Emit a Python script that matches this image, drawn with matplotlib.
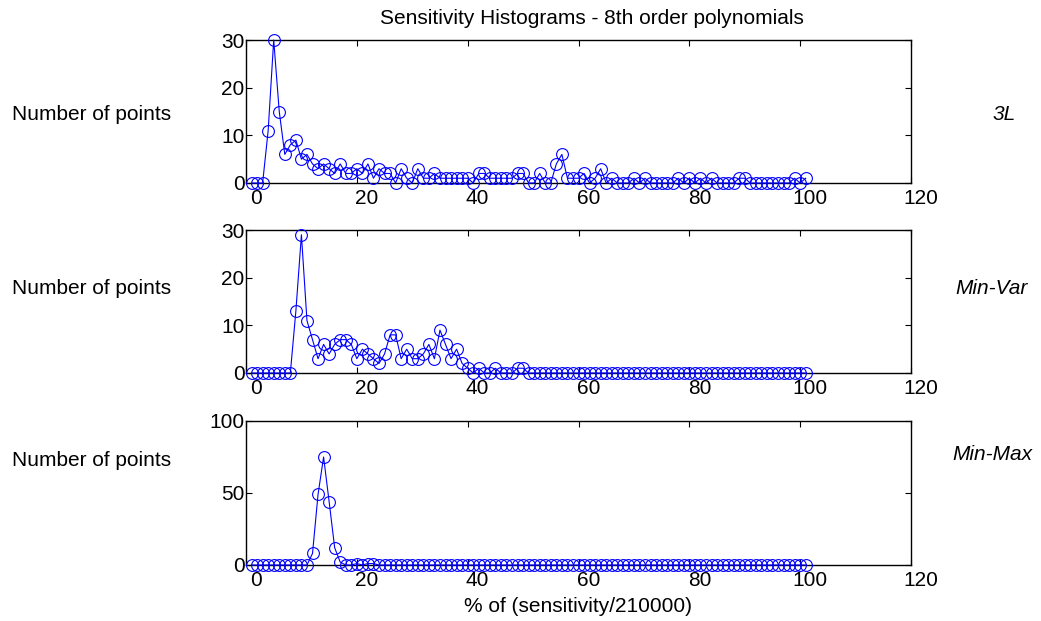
import numpy as np
import matplotlib
matplotlib.use('Agg')
import matplotlib.pyplot as plt
import matplotlib.transforms as mtransforms

plt.rcParams['font.family'] = ['Liberation Sans', 'DejaVu Sans']

# bins 1..101 (% of sensitivity/210000)
x = np.arange(1, 102)

counts_3L = [0, 0, 0, 11, 30, 15, 6, 8, 9, 5,
             6, 4, 3, 4, 3, 2, 4, 2, 2, 3,
             2, 4, 1, 3, 2, 2, 0, 3, 1, 0,
             3, 1, 1, 2, 1, 1, 1, 1, 1, 1,
             0, 2, 2, 1, 1, 1, 1, 1, 2, 2,
             0, 0, 2, 0, 0, 4, 6, 1, 1, 1,
             2, 0, 1, 3, 0, 1, 0, 0, 0, 1,
             0, 1, 0, 0, 0, 0, 0, 1, 0, 1,
             0, 1, 0, 1, 0, 0, 0, 0, 1, 1,
             0, 0, 0, 0, 0, 0, 0, 0, 1, 0,
             1]

counts_minvar = [0, 0, 0, 0, 0, 0, 0, 0, 13, 29,
                 11, 7, 3, 6, 4, 6, 7, 7, 6, 3,
                 5, 4, 3, 2, 4, 8, 8, 3, 5, 3,
                 3, 4, 6, 3, 9, 6, 3, 5, 2, 1,
                 0, 1, 0, 0, 1, 0, 0, 0, 1, 1,
                 0, 0, 0, 0, 0, 0, 0, 0, 0, 0,
                 0, 0, 0, 0, 0, 0, 0, 0, 0, 0,
                 0, 0, 0, 0, 0, 0, 0, 0, 0, 0,
                 0, 0, 0, 0, 0, 0, 0, 0, 0, 0,
                 0, 0, 0, 0, 0, 0, 0, 0, 0, 0,
                 0]

counts_minmax = [0, 0, 0, 0, 0, 0, 0, 0, 0, 0,
                 0, 8, 49, 75, 44, 12, 2, 0, 0, 1,
                 0, 1, 1, 0, 0, 0, 0, 0, 0, 0,
                 0, 0, 0, 0, 0, 0, 0, 0, 0, 0,
                 0, 0, 0, 0, 0, 0, 0, 0, 0, 0,
                 0, 0, 0, 0, 0, 0, 0, 0, 0, 0,
                 0, 0, 0, 0, 0, 0, 0, 0, 0, 0,
                 0, 0, 0, 0, 0, 0, 0, 0, 0, 0,
                 0, 0, 0, 0, 0, 0, 0, 0, 0, 0,
                 0, 0, 0, 0, 0, 0, 0, 0, 0, 0,
                 0]

series = [counts_3L, counts_minvar, counts_minmax]
names = ['3L', 'Min-Var', 'Min-Max']
ylims = [30, 30, 100]
yticks = [[0, 10, 20, 30], [0, 10, 20, 30], [0, 50, 100]]
xticks = [0, 20, 40, 60, 80, 100, 120]

W, H = 1041, 621
fig = plt.figure(figsize=(W / 100, H / 100), dpi=100)

# axes boxes in pixels: (top, bottom)
boxes = [(40, 183), (230, 373), (421, 565)]
left, right = 246, 911
ylab_y = [115, 288, 461]
name_xy = [(1004, 115), (992, 288), (992, 455)]
fs = 15

shift = mtransforms.ScaledTranslation(10 / 100, 0, fig.dpi_scale_trans)

for i, (top, bot) in enumerate(boxes):
    ax = fig.add_axes([left / W, 1 - bot / H, (right - left) / W, (bot - top) / H])
    ax.plot(x, series[i], '-o', color='#0000ff', lw=0.8, ms=8.5, mfc='none',
            mew=0.8, clip_on=False, zorder=3)
    ax.set_xlim(0, 120)
    ax.set_ylim(0, ylims[i])
    ax.set_xticks(xticks)
    ax.set_yticks(yticks[i])
    ax.tick_params(direction='in', top=True, right=True, length=4.5,
                   width=0.8, labelsize=fs, pad=4)
    ax.tick_params(axis='y', pad=1)
    for lab in ax.get_xticklabels():
        lab.set_transform(lab.get_transform() + shift)
    for sp in ax.spines.values():
        sp.set_linewidth(1.0)
    fig.text(12 / W, 1 - ylab_y[i] / H, 'Number of points', fontsize=fs,
             ha='left', va='center')
    fig.text(name_xy[i][0] / W, 1 - name_xy[i][1] / H, names[i], fontsize=fs,
             style='italic', ha='center', va='center')
    if i == 0:
        fig.text(592 / W, 1 - 19 / H, 'Sensitivity Histograms - 8th order polynomials',
                 fontsize=fs, ha='center', va='center')
    if i == 2:
        fig.text(578 / W, 1 - 607 / H, '% of (sensitivity/210000)', fontsize=fs,
                 ha='center', va='center')

fig.savefig('out.png', dpi=100)
